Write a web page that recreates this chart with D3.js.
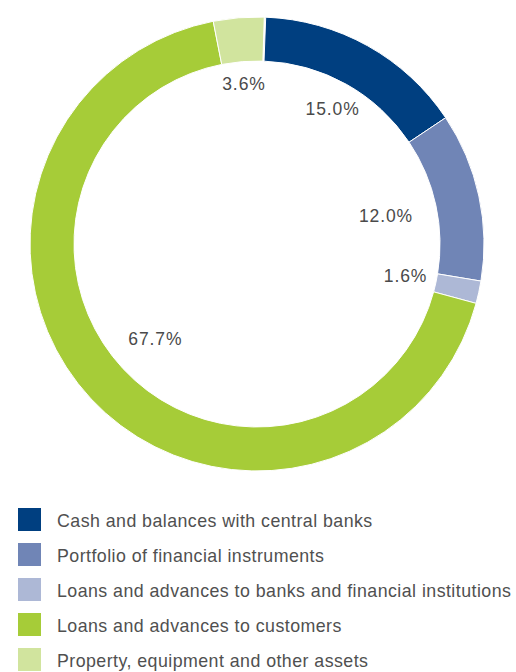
<!DOCTYPE html>
<html>
<head>
<meta charset="utf-8">
<script src="https://cdn.jsdelivr.net/npm/d3@7"></script>
<style>
  html, body { margin: 0; padding: 0; background: #fff; }
  svg { display: block; }
  text { font-family: "Liberation Sans", Arial, Helvetica, sans-serif; }
</style>
</head>
<body>
<svg id="chart" width="516" height="672"></svg>
<script>
// Asset structure (share of total assets, %)
const categories = [
  "Cash and balances with central banks",
  "Portfolio of financial instruments",
  "Loans and advances to banks and financial institutions",
  "Loans and advances to customers",
  "Property, equipment and other assets"
];
const values = [15.0, 12.0, 1.6, 67.7, 3.6];
const valueLabels = ["15.0%", "12.0%", "1.6%", "67.7%", "3.6%"];
const colors = ["#003f80", "#7085b6", "#adb8d6", "#a6cc38", "#d1e49e"];

// Layout
const width = 516, height = 672;
const cx = 257, cy = 244;
const outerR = 227, innerR = 183;
const rotation = 2.2 * Math.PI / 180;
// radial distance of each percentage label from the centre
const labelR = [155, 132, 152, 139, 161];

const svg = d3.select("#chart");

const pie = d3.pie()
  .value(d => d)
  .sort(null)
  .startAngle(rotation)
  .endAngle(rotation + 2 * Math.PI * d3.sum(values) / 100);

const arcs = pie(values);
const arc = d3.arc().innerRadius(innerR).outerRadius(outerR);

const g = svg.append("g").attr("transform", `translate(${cx},${cy})`);

g.selectAll("path.slice")
  .data(arcs)
  .join("path")
  .attr("class", "slice")
  .attr("d", arc)
  .attr("fill", (d, i) => colors[i])
  .attr("stroke", "#fff")
  .attr("stroke-width", 1);

g.selectAll("text.pct")
  .data(arcs)
  .join("text")
  .attr("class", "pct")
  .attr("x", (d, i) => labelR[i] * Math.sin((d.startAngle + d.endAngle) / 2))
  .attr("y", (d, i) => -labelR[i] * Math.cos((d.startAngle + d.endAngle) / 2))
  .attr("text-anchor", "middle")
  .attr("dominant-baseline", "central")
  .attr("font-size", 17.5)
  .attr("letter-spacing", 0.9)
  .attr("fill", "#4a4a4a")
  .text((d, i) => valueLabels[i]);

// Legend
const legend = svg.append("g").attr("transform", "translate(18,508)");
const rowH = 35;
const item = legend.selectAll("g.item")
  .data(categories)
  .join("g")
  .attr("class", "item")
  .attr("transform", (d, i) => `translate(0,${i * rowH})`);

item.append("rect")
  .attr("width", 23)
  .attr("height", 23)
  .attr("fill", (d, i) => colors[i]);

item.append("text")
  .attr("x", 39)
  .attr("y", 18.5)
  .attr("font-size", 17.8)
  .attr("letter-spacing", 0.45)
  .attr("fill", "#505050")
  .text(d => d);
</script>
</body>
</html>
